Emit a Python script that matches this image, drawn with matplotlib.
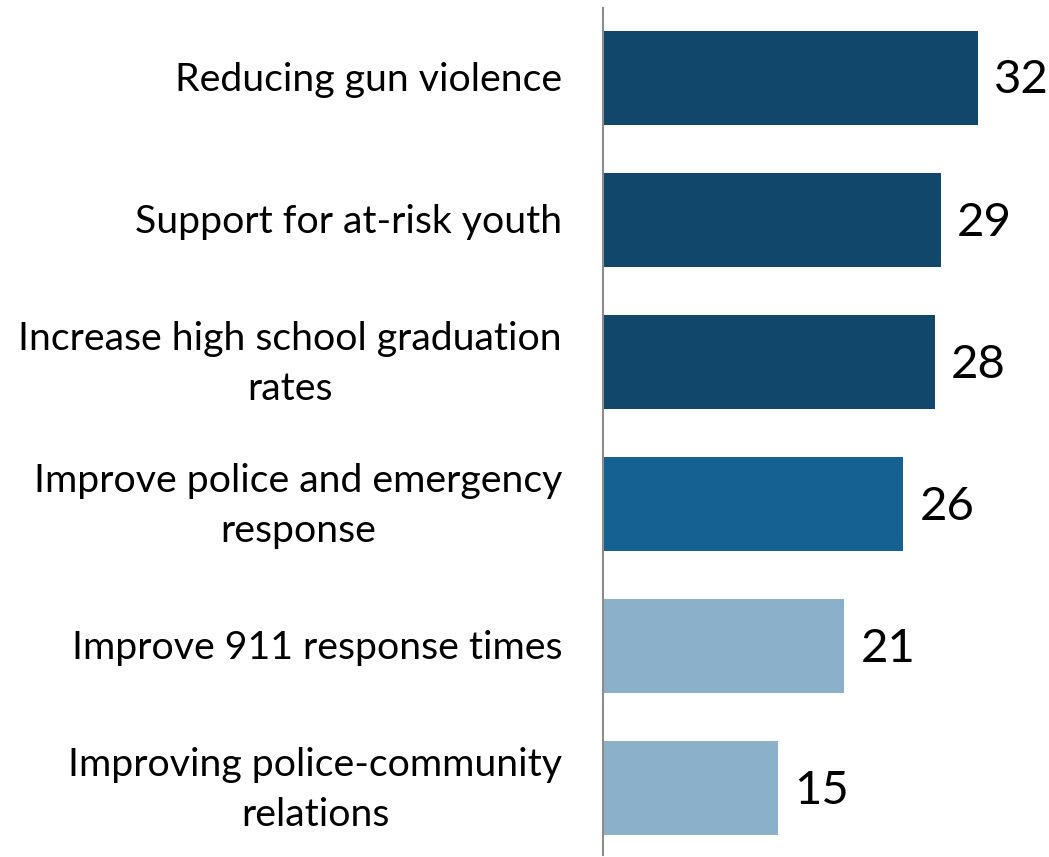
import matplotlib.pyplot as plt

categories = [
    "Reducing gun violence",
    "Support for at-risk youth",
    "Increase high school graduation\nrates",
    "Improve police and emergency\nresponse",
    "Improve 911 response times",
    "Improving police-community\nrelations",
]
# labels shown on the chart, and bar lengths
labels = [32, 29, 28, 26, 21, 15]
values = [32.0, 28.8, 28.3, 25.6, 20.6, 14.9]
colors = ["#10476B", "#10476B", "#10476B", "#156191", "#8AB0CA", "#8AB0CA"]

plt.rcParams["font.family"] = ["Lato", "DejaVu Sans"]

fig = plt.figure(figsize=(10.49, 8.57), dpi=100)
ax = fig.add_axes([603 / 1049, 2 / 857, 446 / 1049, 847 / 857])

ypos = list(range(len(categories)))
ax.barh(ypos, values, height=0.662, color=colors)
xmax = 446 / 11.72
ax.set_xlim(0, xmax)
ax.set_ylim(5.47, -0.49)

for y, v, lab in zip(ypos, values, labels):
    ax.text(v + 1.4, y + 0.02, str(lab), va="center", ha="left", fontsize=34, color="black")

for y, c in zip(ypos, categories):
    ax.text(-41 / 11.72, y + 0.015, c, va="center", ha="right", fontsize=28.3,
            color="black", multialignment="center", linespacing=1.49)

for s in ["top", "right", "bottom"]:
    ax.spines[s].set_visible(False)
ax.spines["left"].set_color("#8C8C8C")
ax.spines["left"].set_linewidth(1.5)
ax.set_xticks([])
ax.set_yticks([])

fig.savefig("out.png", dpi=100)
